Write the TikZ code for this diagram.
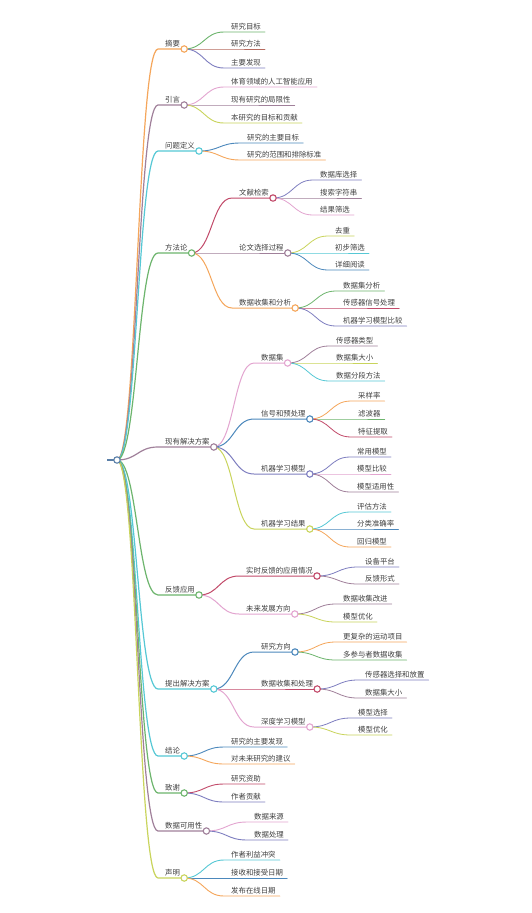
\documentclass[tikz,border=0pt]{standalone}
\usepackage{fontspec}
\newfontfamily\cjk{Noto Sans CJK SC}
\usetikzlibrary{calc}
\definecolor{corange}{HTML}{F5A65B}
\definecolor{cgreen}{HTML}{6DB56D}
\definecolor{ccrimson}{HTML}{C24A6A}
\definecolor{cslate}{HTML}{7E7EC0}
\definecolor{cbrown}{HTML}{B66A5E}
\definecolor{cmauve}{HTML}{A0809A}
\definecolor{cpink}{HTML}{E3A5D0}
\definecolor{cyg}{HTML}{C9D45C}
\definecolor{ccyan}{HTML}{56C8D5}
\definecolor{csteel}{HTML}{4C88BC}
\definecolor{croot}{HTML}{5A7FA8}
\definecolor{ctext}{HTML}{404040}
\tikzset{
  lbl/.style={font=\cjk\fontsize{7.4}{8}\selectfont, text=ctext, inner sep=0pt},
  mmlink/.style={line cap=round, line join=round},
  mmdot/.style={circle, draw, fill=white, inner sep=0pt, minimum size=6.4pt, line width=1.1pt}
}
% name, parent, start x, y, colour, width, text
\newcommand\mm[7]{%
  \coordinate (#1-s) at (#3,#4);
  \node[lbl, anchor=base west] (#1) at ($(#1-s)+(7,-2.5)$) {#7};
  \coordinate (#1-e) at ($(#1.east |- #1-s)+(4,0)$);
  \draw[mmlink, draw=#5, line width=#6pt] let \p1=(#2-e), \p2=(#1-s) in
    (#2-e) .. controls ({(\x1+\x2)/2},\y1) and ({(\x1+\x2)/2},\y2) .. (#1-s) -- (#1-e);
}
\newcommand\mmcircle[2]{\node[mmdot, draw=#2] at (#1-e) {};}
\begin{document}
\begin{tikzpicture}[x=1pt,y=-1pt]
\fill[white] (0,0) rectangle (531,913);
\useasboundingbox (0,0) rectangle (531,913);
% root
\coordinate (root-s) at (107,460);
\coordinate (root-e) at (117,460);
\draw[croot, line width=1.2pt] (root-s) -- (root-e);
% level 1 and below
\mm{a}{root}{158}{49}{corange}{1.2}{摘要}
\mm{a1}{a}{224}{32}{cgreen}{0.9}{研究目标}
\mm{a2}{a}{224}{49}{cbrown}{0.9}{研究方法}
\mm{a3}{a}{224}{68}{cslate}{0.9}{主要发现}
\mm{b}{root}{158}{105}{cmauve}{1.2}{引言}
\mm{b1}{b}{224}{87}{cpink}{0.9}{体育领域的人工智能应用}
\mm{b2}{b}{224}{105}{cmauve}{0.9}{现有研究的局限性}
\mm{b3}{b}{224}{123}{cyg}{0.9}{本研究的目标和贡献}
\mm{c}{root}{158}{151}{ccyan}{1.2}{问题定义}
\mm{c1}{c}{240}{143}{csteel}{0.9}{研究的主要目标}
\mm{c2}{c}{240}{160}{corange}{0.9}{研究的范围和排除标准}
\mm{d}{root}{158}{253}{cgreen}{1.2}{方法论}
\mm{d1}{d}{232}{198}{ccrimson}{1.0}{文献检索}
\mm{d11}{d1}{313}{180}{cslate}{0.8}{数据库选择}
\mm{d12}{d1}{313}{198}{cmauve}{0.8}{搜索字符串}
\mm{d13}{d1}{313}{215}{cpink}{0.8}{结果筛选}
\mm{d2}{d}{232}{253}{cmauve}{1.0}{论文选择过程}
\mm{d21}{d2}{328}{236}{cyg}{0.8}{去重}
\mm{d22}{d2}{328}{253}{ccyan}{0.8}{初步筛选}
\mm{d23}{d2}{328}{270}{csteel}{0.8}{详细阅读}
\mm{d3}{d}{232}{308}{corange}{1.0}{数据收集和分析}
\mm{d31}{d3}{336}{291}{cgreen}{0.8}{数据集分析}
\mm{d32}{d3}{336}{308}{ccrimson}{0.8}{传感器信号处理}
\mm{d33}{d3}{336}{326}{cslate}{0.8}{机器学习模型比较}
\mm{e}{root}{158}{447}{cmauve}{1.2}{现有解决方案}
\mm{e1}{e}{254}{363}{cpink}{1.0}{数据集}
\mm{e11}{e1}{329}{346}{cmauve}{0.8}{传感器类型}
\mm{e12}{e1}{329}{363}{cyg}{0.8}{数据集大小}
\mm{e13}{e1}{329}{381}{ccyan}{0.8}{数据分段方法}
\mm{e2}{e}{254}{419}{csteel}{1.0}{信号和预处理}
\mm{e21}{e2}{351}{401}{corange}{0.8}{采样率}
\mm{e22}{e2}{351}{419}{cgreen}{0.8}{滤波器}
\mm{e23}{e2}{351}{437}{ccrimson}{0.8}{特征提取}
\mm{e3}{e}{254}{474}{cslate}{1.0}{机器学习模型}
\mm{e31}{e3}{350}{457}{cslate}{0.8}{常用模型}
\mm{e32}{e3}{350}{474}{cpink}{0.8}{模型比较}
\mm{e33}{e3}{350}{492}{cmauve}{0.8}{模型适用性}
\mm{e4}{e}{254}{529}{cyg}{1.0}{机器学习结果}
\mm{e41}{e4}{350}{512}{ccyan}{0.8}{评估方法}
\mm{e42}{e4}{350}{529}{csteel}{0.8}{分类准确率}
\mm{e43}{e4}{350}{547}{corange}{0.8}{回归模型}
\mm{f}{root}{158}{595}{cgreen}{1.2}{反馈应用}
\mm{f1}{f}{239}{576}{ccrimson}{1.0}{实时反馈的应用情况}
\mm{f11}{f1}{358}{567}{cslate}{0.8}{设备平台}
\mm{f12}{f1}{358}{584}{cmauve}{0.8}{反馈形式}
\mm{f2}{f}{239}{614}{cpink}{1.0}{未来发展方向}
\mm{f21}{f2}{336}{604}{cmauve}{0.8}{数据收集改进}
\mm{f22}{f2}{336}{622}{cyg}{0.8}{模型优化}
\mm{g}{root}{158}{689}{ccyan}{1.2}{提出解决方案}
\mm{g1}{g}{254}{652}{csteel}{1.0}{研究方向}
\mm{g11}{g1}{336}{642}{corange}{0.8}{更复杂的运动项目}
\mm{g12}{g1}{336}{660}{cgreen}{0.8}{多参与者数据收集}
\mm{g2}{g}{254}{689}{ccrimson}{1.0}{数据收集和处理}
\mm{g21}{g2}{358}{680}{cslate}{0.8}{传感器选择和放置}
\mm{g22}{g2}{358}{698}{cmauve}{0.8}{数据集大小}
\mm{g3}{g}{254}{727}{cpink}{1.0}{深度学习模型}
\mm{g31}{g3}{351}{718}{cslate}{0.8}{模型选择}
\mm{g32}{g3}{351}{735}{cyg}{0.8}{模型优化}
\mm{h}{root}{158}{756}{ccyan}{1.2}{结论}
\mm{h1}{h}{224}{747}{csteel}{0.9}{研究的主要发现}
\mm{h2}{h}{224}{764}{corange}{0.9}{对未来研究的建议}
\mm{i}{root}{158}{793}{cgreen}{1.2}{致谢}
\mm{i1}{i}{224}{784}{ccrimson}{0.9}{研究资助}
\mm{i2}{i}{224}{802}{cslate}{0.9}{作者贡献}
\mm{j}{root}{158}{831}{cmauve}{1.2}{数据可用性}
\mm{j1}{j}{247}{822}{cpink}{0.9}{数据来源}
\mm{j2}{j}{247}{840}{cslate}{0.9}{数据处理}
\mm{k}{root}{158}{878}{cyg}{1.2}{声明}
\mm{k1}{k}{224}{860}{ccyan}{0.9}{作者利益冲突}
\mm{k2}{k}{224}{878}{csteel}{0.9}{接收和接受日期}
\mm{k3}{k}{224}{896}{corange}{0.9}{发布在线日期}
% circles
\mmcircle{root}{croot}
\mmcircle{a}{corange}
\mmcircle{b}{cmauve}
\mmcircle{c}{ccyan}
\mmcircle{d}{cgreen}
\mmcircle{d1}{ccrimson}
\mmcircle{d2}{cmauve}
\mmcircle{d3}{corange}
\mmcircle{e}{cmauve}
\mmcircle{e1}{cpink}
\mmcircle{e2}{csteel}
\mmcircle{e3}{cslate}
\mmcircle{e4}{cyg}
\mmcircle{f}{cgreen}
\mmcircle{f1}{ccrimson}
\mmcircle{f2}{cpink}
\mmcircle{g}{ccyan}
\mmcircle{g1}{csteel}
\mmcircle{g2}{ccrimson}
\mmcircle{g3}{cpink}
\mmcircle{h}{ccyan}
\mmcircle{i}{cgreen}
\mmcircle{j}{cmauve}
\mmcircle{k}{cyg}
\end{tikzpicture}
\end{document}
